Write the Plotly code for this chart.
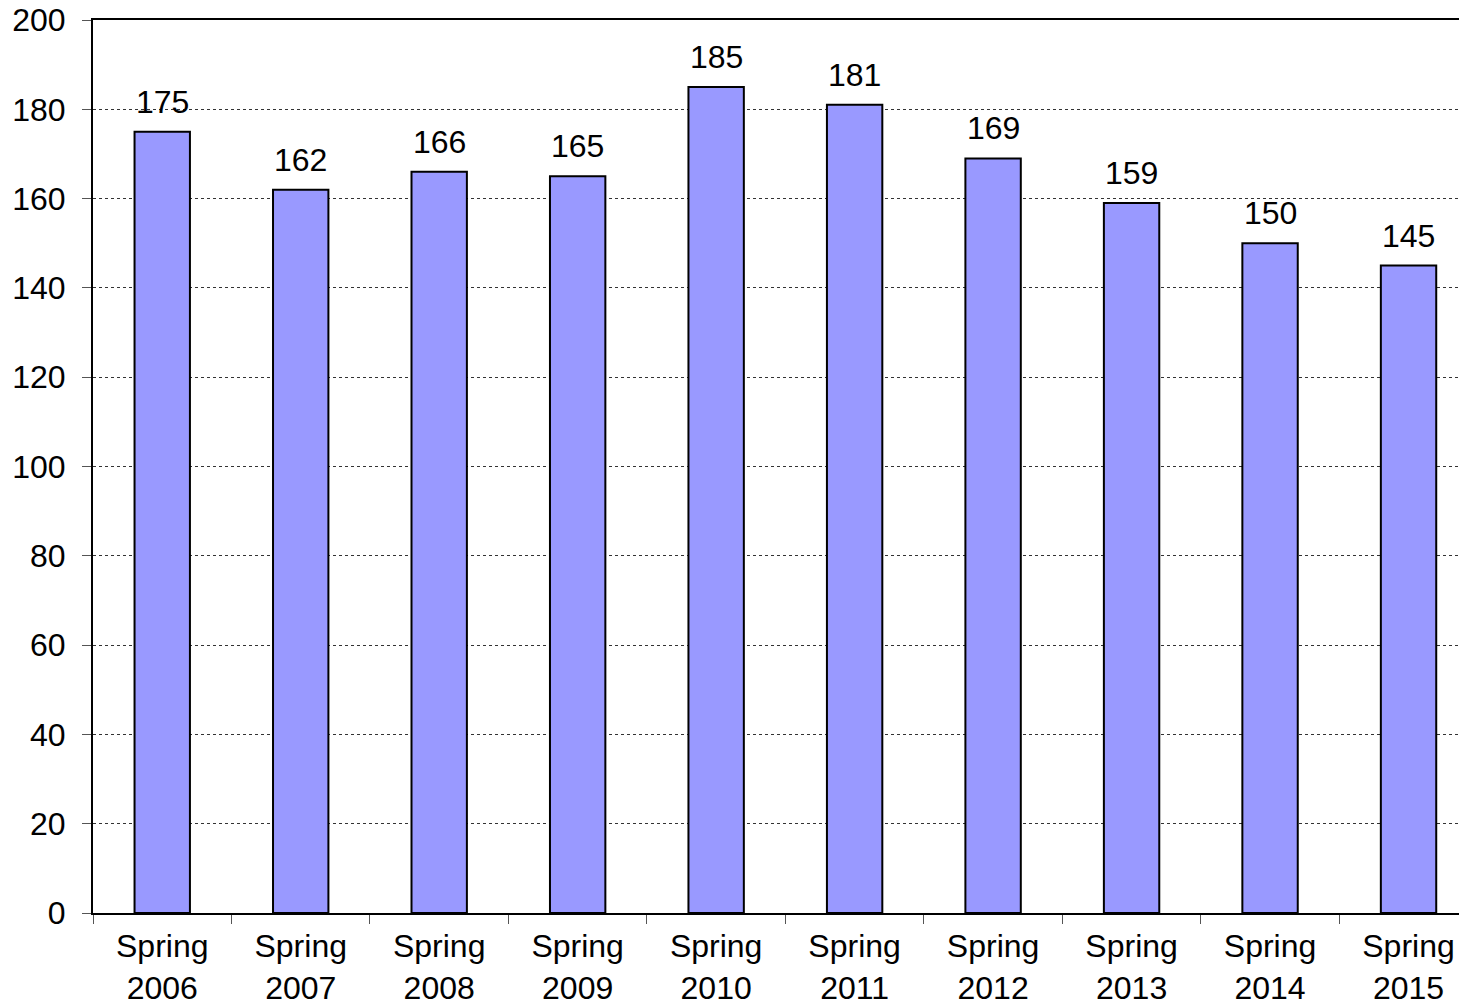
import plotly.graph_objects as go

# data
seasons = ["Spring<br>2006", "Spring<br>2007", "Spring<br>2008", "Spring<br>2009", "Spring<br>2010",
           "Spring<br>2011", "Spring<br>2012", "Spring<br>2013", "Spring<br>2014", "Spring<br>2015"]
counts = [175, 162, 166, 165, 185, 181, 169, 159, 150, 145]
y_ticks = [0, 20, 40, 60, 80, 100, 120, 140, 160, 180, 200]

FONT = "Liberation Sans, Arial, sans-serif"

fig = go.Figure()
fig.add_trace(go.Bar(
    x=seasons, y=counts,
    width=0.40,
    marker=dict(color="#9999FF", line=dict(color="black", width=2)),
    hoverinfo="skip",
))

# value labels above the bars
for s, v in zip(seasons, counts):
    fig.add_annotation(x=s, y=v, text=str(v), showarrow=False,
                       yanchor="bottom", yshift=10,
                       font=dict(family=FONT, size=32, color="black"))

# page body adds ~8px offset, so margins are trimmed to line up with the reference
fig.update_layout(
    width=1467, height=1005,
    margin=dict(l=85, r=0, t=12, b=100),
    paper_bgcolor="white", plot_bgcolor="white",
    font=dict(family=FONT, size=32, color="black"),
    showlegend=False,
)
fig.update_xaxes(
    range=[-0.5, 9.48], automargin=False,
    showline=True, linecolor="black", linewidth=2, mirror=True,
    ticks="outside", tickson="boundaries", ticklen=9, tickcolor="#555555", tickwidth=1,
    ticklabelstandoff=4, ticklabeloverflow="allow",
    showgrid=False,
    tickfont=dict(family=FONT, size=32, color="black"),
)
fig.update_yaxes(
    range=[0, 200], tickvals=y_ticks, automargin=False,
    showline=True, linecolor="black", linewidth=2,
    ticks="outside", ticklen=9, tickcolor="#555555", tickwidth=1,
    ticklabelstandoff=10, ticklabeloverflow="allow",
    showgrid=True, gridcolor="#333333", gridwidth=1, griddash="dot",
    zeroline=False,
    tickfont=dict(family=FONT, size=32, color="black"),
)

fig.write_html("out.html")
